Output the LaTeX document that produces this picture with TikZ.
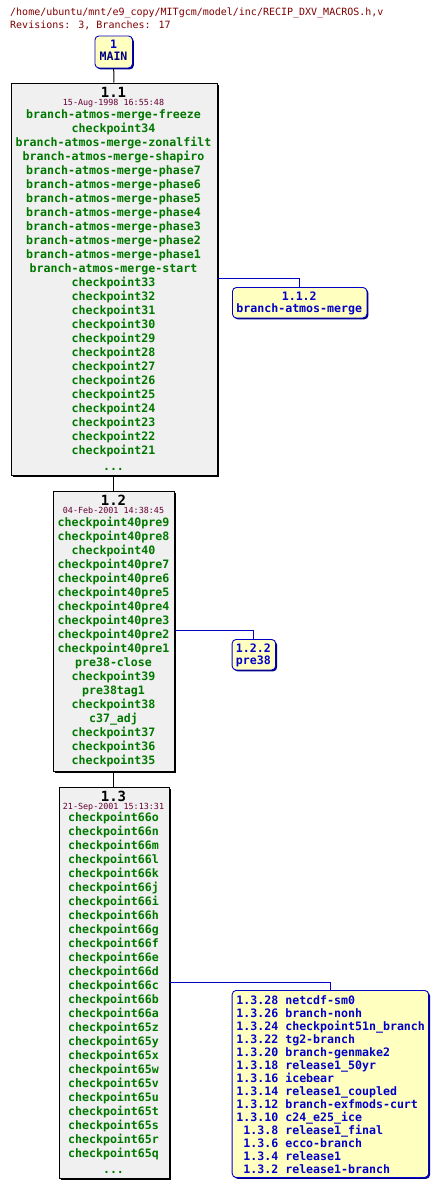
\documentclass[tikz,border=0pt]{standalone}
\usepackage{fontspec}
\usepackage{tikz}
\usetikzlibrary{shadows}
\newfontfamily\cvsfont{DejaVu Sans Mono}
\definecolor{hdrred}{HTML}{800000}
\definecolor{datered}{HTML}{660033}
\definecolor{taggreen}{HTML}{007800}
\definecolor{revgrey}{HTML}{F0F0F0}
\definecolor{brfill}{HTML}{FFFFC0}
\definecolor{brblue}{HTML}{0000C8}
\definecolor{brnavy}{HTML}{000080}
\tikzset{
  revbox/.style={draw=black, fill=revgrey, line width=0.9pt, anchor=north west, inner sep=0pt,
    drop shadow={shadow xshift=1.6pt, shadow yshift=-1.6pt, opacity=1, fill=black}},
  branchbox/.style={draw=brblue, fill=brfill, line width=0.9pt, rounded corners=4pt, anchor=north west, inner sep=0pt,
    drop shadow={shadow xshift=1.4pt, shadow yshift=-1.4pt, opacity=1, fill=brnavy}},
  hdrtext/.style={anchor=base west, inner sep=0pt, text=hdrred, font=\cvsfont\fontsize{10}{12}\selectfont},
  revnum/.style={anchor=base, inner sep=0pt, font=\cvsfont\bfseries\fontsize{14}{16}\selectfont},
  revdate/.style={anchor=base, inner sep=0pt, text=datered, font=\cvsfont\fontsize{8.4}{10}\selectfont},
  tagtext/.style={anchor=base, inner sep=0pt, text=taggreen, font=\cvsfont\bfseries\fontsize{11.6}{14}\selectfont},
  branchtext/.style={anchor=base, inner sep=0pt, text=brblue, font=\cvsfont\bfseries\fontsize{11.6}{13}\selectfont},
  trunk/.style={draw=black, line width=1pt},
  branchline/.style={draw=brblue, line width=1pt}
}
\begin{document}
\begin{tikzpicture}[x=1pt, y=-1pt]
\useasboundingbox (0,0) rectangle (440,1189);
\node[hdrtext] (path) at (10,15.5) {/home/ubuntu/mnt/e9\_copy/MITgcm/model/inc/RECIP\_DXV\_MACROS.h,v};
\node[hdrtext] (revs) at (10,28.5) {Revisions: 3, Branches: 17};

\node[branchbox, minimum width=37.5pt, minimum height=32pt] (main) at (94.5,35.5) {};
\node[branchtext] (main-num) at (113.5,48.3) {1};
\node[branchtext, text=brnavy] (main-name) at (113.5,60.7) {MAIN};

\node[revbox, minimum width=206pt, minimum height=392pt] (r11) at (10.5,82.5) {};
\node[revnum] (r11-num) at (113.5,97.8) {1.1};
\node[revdate] (r11-date) at (113.5,105.8) {15-Aug-1998 16:55:48};
\foreach \t [count=\i] in {branch-atmos-merge-freeze, checkpoint34, branch-atmos-merge-zonalfilt,
  branch-atmos-merge-shapiro, branch-atmos-merge-phase7, branch-atmos-merge-phase6,
  branch-atmos-merge-phase5, branch-atmos-merge-phase4, branch-atmos-merge-phase3,
  branch-atmos-merge-phase2, branch-atmos-merge-phase1, branch-atmos-merge-start,
  checkpoint33, checkpoint32, checkpoint31, checkpoint30, checkpoint29, checkpoint28,
  checkpoint27, checkpoint26, checkpoint25, checkpoint24, checkpoint23, checkpoint22, checkpoint21}
  \node[tagtext] (r11-\i) at (113.5,104+14*\i) {\t};
\node[tagtext] (r11-more) at (113.5,470) {...};

\node[branchbox, minimum width=134.5pt, minimum height=30.5pt] (b112) at (232,287) {};
\node[branchtext] (b112-num) at (299.25,300) {1.1.2};
\node[branchtext] (b112-name) at (299.25,312) {branch-atmos-merge};

\node[revbox, minimum width=121pt, minimum height=280pt] (r12) at (53,490.5) {};
\node[revnum] (r12-num) at (113.5,505.8) {1.2};
\node[revdate] (r12-date) at (113.5,513.8) {04-Feb-2001 14:38:45};
\foreach \t [count=\i] in {checkpoint40pre9, checkpoint40pre8, checkpoint40, checkpoint40pre7,
  checkpoint40pre6, checkpoint40pre5, checkpoint40pre4, checkpoint40pre3, checkpoint40pre2,
  checkpoint40pre1, pre38-close, checkpoint39, pre38tag1, checkpoint38, c37\_adj,
  checkpoint37, checkpoint36, checkpoint35}
  \node[tagtext] (r12-\i) at (113.5,512+14*\i) {\t};

\node[branchbox, minimum width=43.5pt, minimum height=30.5pt] (b122) at (231.7,639) {};
\node[branchtext] (b122-num) at (253.45,652.3) {1.2.2};
\node[branchtext] (b122-name) at (253.45,664.3) {pre38};

\node[revbox, minimum width=110pt, minimum height=391pt] (r13) at (58.5,786.5) {};
\node[revnum] (r13-num) at (113.5,801.3) {1.3};
\node[revdate] (r13-date) at (113.5,809.3) {21-Sep-2001 15:13:31};
\foreach \t [count=\i] in {checkpoint66o, checkpoint66n, checkpoint66m, checkpoint66l,
  checkpoint66k, checkpoint66j, checkpoint66i, checkpoint66h, checkpoint66g, checkpoint66f,
  checkpoint66e, checkpoint66d, checkpoint66c, checkpoint66b, checkpoint66a, checkpoint65z,
  checkpoint65y, checkpoint65x, checkpoint65w, checkpoint65v, checkpoint65u, checkpoint65t,
  checkpoint65s, checkpoint65r, checkpoint65q}
  \node[tagtext] (r13-\i) at (113.5,807.5+14*\i) {\t};
\node[tagtext] (r13-more) at (113.5,1173.5) {...};

\node[branchbox, minimum width=196.5pt, minimum height=187pt] (b13) at (231.7,990) {};
\foreach \t [count=\i] in {1.3.28 netcdf-sm0, 1.3.26 branch-nonh, 1.3.24 checkpoint51n\_branch,
  1.3.22 tg2-branch, 1.3.20 branch-genmake2, 1.3.18 release1\_50yr, 1.3.16 icebear,
  1.3.14 release1\_coupled, 1.3.12 branch-exfmods-curt, 1.3.10 c24\_e25\_ice,
  \phantom{1}1.3.8 release1\_final, \phantom{1}1.3.6 ecco-branch, \phantom{1}1.3.4 release1,
  \phantom{1}1.3.2 release1-branch}
  \node[branchtext, anchor=base west] (b13-\i) at (236.2,991+13*\i) {\t};

\draw[trunk] (main.south) -- (r11.north);
\draw[trunk] (r11.south) -- (r12.north);
\draw[trunk] (r12.south) -- (r13.north);
\draw[branchline] (r11.east) -| (b112.north);
\draw[branchline] (r12.east) -| (b122.north);
\draw[branchline] (r13.east) -| (b13.north);
\end{tikzpicture}
\end{document}
